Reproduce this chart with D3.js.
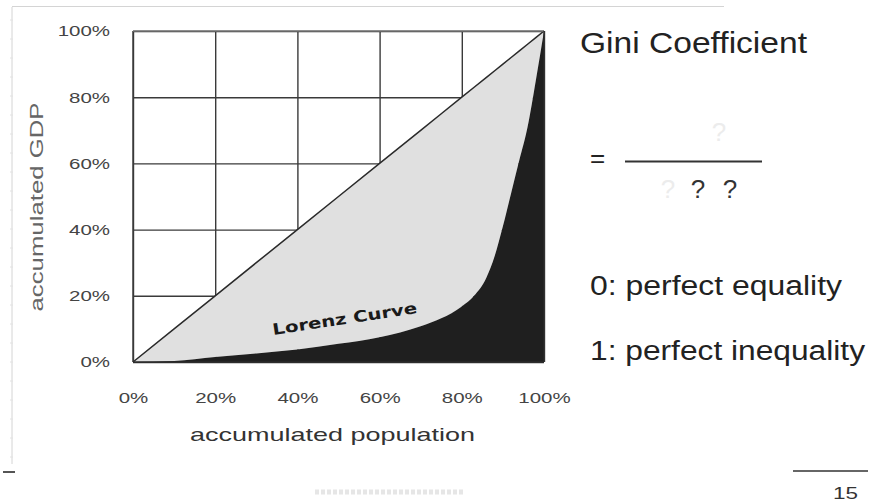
<!DOCTYPE html>
<html>
<head>
<meta charset="utf-8">
<script src="https://cdn.jsdelivr.net/npm/d3@7"></script>
<style>
  html, body { margin: 0; padding: 0; background: #fff; }
  svg { display: block; font-family: "Liberation Sans", Arial, sans-serif; }
</style>
</head>
<body>
<svg id="chart" width="872" height="503"></svg>
<script>
// ---- data ----
const population = [0, 10, 20, 30, 40, 50, 60, 70, 75, 80, 83, 86, 88, 90, 92, 94, 96, 98, 100];
const gdpShare   = [0, 0.3, 1.5, 2.6, 3.8, 5.5, 7.5, 10.8, 13.2, 16.8, 20, 25.5, 32, 41, 51, 61, 71, 85, 100];
const tickValues = [0, 20, 40, 60, 80, 100];
const tickLabels = ["0%", "20%", "40%", "60%", "80%", "100%"];
const xTitle = "accumulated population";
const yTitle = "accumulated GDP";
const curveLabel = "Lorenz Curve";
const title = "Gini Coefficient";
const notes = ["0: perfect equality", "1: perfect inequality"];
const pageNumber = "15";

const svg = d3.select("#chart");
const L = 133, R = 544, T = 31, B = 362;
const x = d3.scaleLinear().domain([0, 100]).range([L, R]);
const y = d3.scaleLinear().domain([0, 100]).range([B, T]);

const pts = population.map((p, i) => ({ p, g: gdpShare[i] }));

// faint slide frame
const frame = svg.append("g").attr("stroke", "#d4d4d4").attr("fill", "none");
frame.append("line").attr("x1", 12).attr("x2", 12).attr("y1", 7).attr("y2", 464);
frame.append("line").attr("x1", 12).attr("x2", 724).attr("y1", 6.5).attr("y2", 6.5);
d3.range(20, 464, 19).forEach(v => {
  frame.append("line").attr("x1", 10).attr("x2", 13).attr("y1", v).attr("y2", v).attr("stroke", "#e2e2e2");
});
svg.append("line").attr("x1", 3).attr("x2", 15).attr("y1", 472).attr("y2", 472)
  .attr("stroke", "#555").attr("stroke-width", 2);
svg.append("line").attr("x1", 315).attr("x2", 465).attr("y1", 492).attr("y2", 492)
  .attr("stroke", "#e6e6e6").attr("stroke-width", 5).attr("stroke-dasharray", "4,2");

// grid
const grid = svg.append("g");
grid.append("g").attr("transform", `translate(${L},0)`)
  .call(d3.axisLeft(y).tickValues(tickValues).tickSize(-(R - L)).tickFormat(""))
  .call(g => g.select(".domain").remove());
grid.append("g").attr("transform", `translate(0,${B})`)
  .call(d3.axisBottom(x).tickValues(tickValues).tickSize(-(B - T)).tickFormat(""))
  .call(g => g.select(".domain").remove());
grid.selectAll("line").attr("stroke", "#3a3a3a").attr("stroke-width", 1.4);

// areas
const curve = d3.curveMonotoneX;
svg.append("path").datum(pts)
  .attr("fill", "#e0e0e0")
  .attr("d", d3.area().curve(curve).x(d => x(d.p)).y0(d => y(d.g)).y1(d => y(d.p)));
svg.append("path").datum(pts)
  .attr("fill", "#1f1f1f")
  .attr("d", d3.area().curve(curve).x(d => x(d.p)).y0(y(0)).y1(d => y(d.g)));

// diagonal (line of equality)
svg.append("path").datum(pts)
  .attr("fill", "none").attr("stroke", "#2a2a2a").attr("stroke-width", 1.5)
  .attr("d", d3.line().x(d => x(d.p)).y(d => y(d.p)));

// border edges
svg.append("line").attr("x1", L).attr("x2", L).attr("y1", T).attr("y2", B).attr("stroke", "#3a3a3a").attr("stroke-width", 1.4);
svg.append("line").attr("x1", L).attr("x2", R).attr("y1", T).attr("y2", T).attr("stroke", "#777").attr("stroke-width", 1.4);
svg.append("line").attr("x1", L).attr("x2", R).attr("y1", B).attr("y2", B).attr("stroke", "#2a2a2a").attr("stroke-width", 1.4);
svg.append("line").attr("x1", R).attr("x2", R).attr("y1", T).attr("y2", B).attr("stroke", "#2a2a2a").attr("stroke-width", 1.2);

function stretch(sel, k) {
  sel.each(function () {
    const w = this.getComputedTextLength();
    d3.select(this).attr("textLength", w * k).attr("lengthAdjust", "spacingAndGlyphs");
  });
}

// tick labels
const fmt = d => tickLabels[tickValues.indexOf(d)];
const yAx = svg.append("g").attr("transform", `translate(${L},0)`)
  .call(d3.axisLeft(y).tickValues(tickValues).tickSize(0).tickPadding(23).tickFormat(fmt));
const xAx = svg.append("g").attr("transform", `translate(0,${B})`)
  .call(d3.axisBottom(x).tickValues(tickValues).tickSize(0).tickPadding(30).tickFormat(fmt));
[yAx, xAx].forEach(a => {
  a.select(".domain").remove();
  a.selectAll("text").attr("font-family", "Liberation Sans, Arial, sans-serif")
    .attr("font-size", 15.5).attr("fill", "#444");
  stretch(a.selectAll("text"), 1.32);
});

// axis titles
svg.append("text").attr("x", 190).attr("y", 441).attr("font-size", 19).attr("fill", "#333")
  .attr("textLength", 285).attr("lengthAdjust", "spacingAndGlyphs").text(xTitle);
svg.append("text").attr("transform", "translate(43,207) rotate(-90)").attr("text-anchor", "middle")
  .attr("font-size", 19).attr("fill", "#666")
  .attr("textLength", 209).attr("lengthAdjust", "spacingAndGlyphs").text(yTitle);

// curve label
svg.append("text").attr("transform", "translate(345.5,324) rotate(-8.6)").attr("text-anchor", "middle")
  .attr("font-family", "DejaVu Sans, sans-serif").attr("font-weight", "bold")
  .attr("font-size", 15.5).attr("fill", "#1a1a1a")
  .attr("textLength", 146).attr("lengthAdjust", "spacingAndGlyphs").text(curveLabel);

// right-hand text
svg.append("text").attr("x", 580).attr("y", 53).attr("font-size", 29).attr("fill", "#222")
  .attr("textLength", 227).attr("lengthAdjust", "spacingAndGlyphs").text(title);
svg.append("text").attr("x", 590).attr("y", 167).attr("font-size", 26).attr("fill", "#222").text("=");
svg.append("line").attr("x1", 625).attr("x2", 762).attr("y1", 161.5).attr("y2", 161.5)
  .attr("stroke", "#333").attr("stroke-width", 1.8);
svg.append("text").attr("x", 719).attr("y", 141).attr("text-anchor", "middle").attr("font-size", 26).attr("fill", "#ececec").text("?");
svg.append("text").attr("x", 668).attr("y", 198).attr("text-anchor", "middle").attr("font-size", 26).attr("fill", "#ececec").text("?");
svg.append("text").attr("x", 698).attr("y", 198).attr("text-anchor", "middle").attr("font-size", 26).attr("fill", "#333").text("?");
svg.append("text").attr("x", 730).attr("y", 198).attr("text-anchor", "middle").attr("font-size", 26).attr("fill", "#333").text("?");
svg.append("text").attr("x", 590).attr("y", 295).attr("font-size", 27).attr("fill", "#222")
  .attr("textLength", 252).attr("lengthAdjust", "spacingAndGlyphs").text(notes[0]);
svg.append("text").attr("x", 590).attr("y", 360).attr("font-size", 27).attr("fill", "#222")
  .attr("textLength", 275).attr("lengthAdjust", "spacingAndGlyphs").text(notes[1]);

// page number
svg.append("line").attr("x1", 793).attr("x2", 868).attr("y1", 471).attr("y2", 471).attr("stroke", "#333").attr("stroke-width", 1.5);
svg.append("text").attr("x", 858).attr("y", 499).attr("text-anchor", "end").attr("font-size", 17).attr("fill", "#333")
  .attr("textLength", 25).attr("lengthAdjust", "spacingAndGlyphs").text(pageNumber);
</script>
</body>
</html>
